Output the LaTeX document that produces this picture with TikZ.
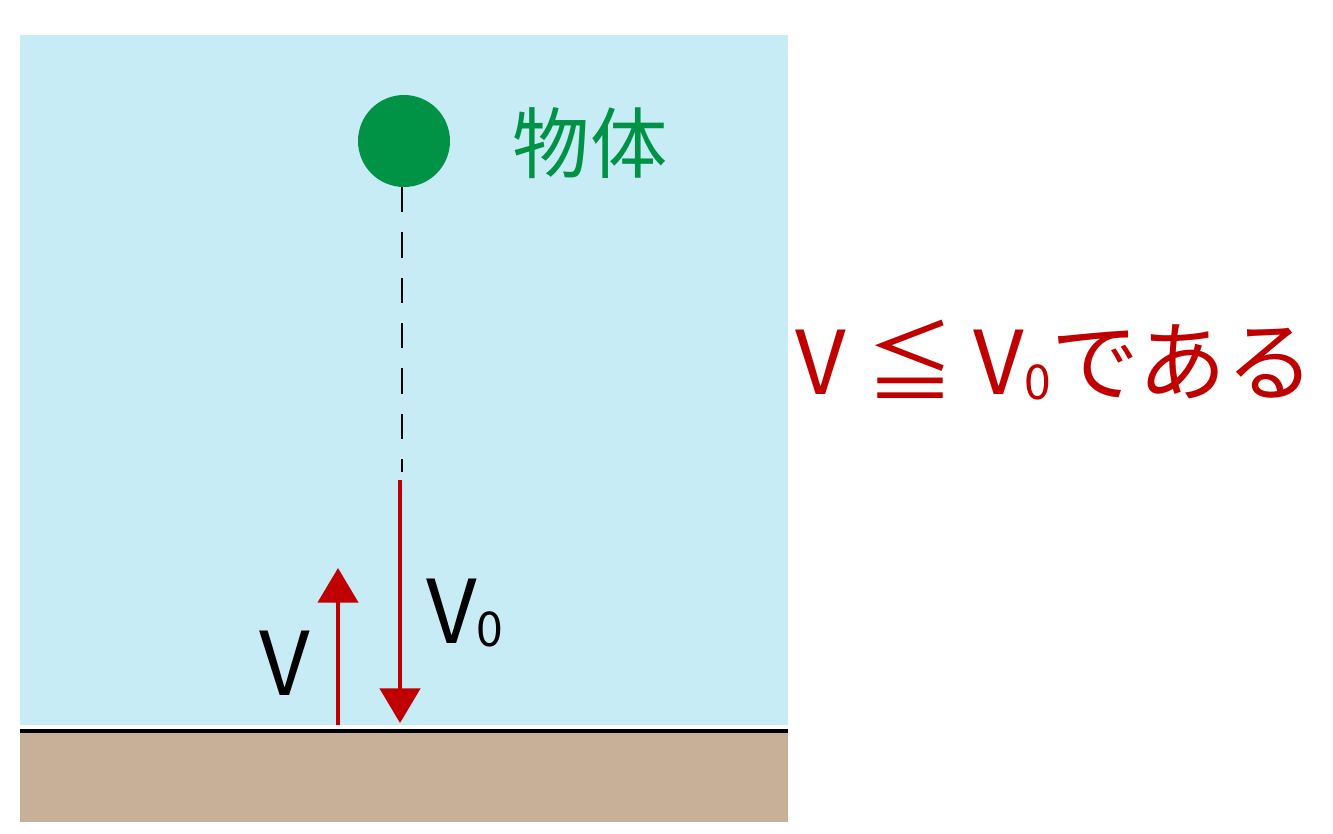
\documentclass[tikz,border=0pt]{standalone}
\usepackage{fontspec}
\setmainfont{Noto Sans CJK JP}
\usetikzlibrary{arrows.meta}
\definecolor{sky}{HTML}{C8ECF5}
\definecolor{soil}{HTML}{C8AF98}
\definecolor{grn}{HTML}{009245}
\definecolor{rd}{HTML}{C00000}
\tikzset{vel/.style={rd,line width=3.5pt,-{Triangle[width=30pt,length=26pt]}}}
\begin{document}
\begin{tikzpicture}[x=0.75pt,y=-0.75pt]
\useasboundingbox (0,0) rectangle (1333,833);
\fill[sky] (20,35) rectangle (788,725);
\fill[soil] (20,733) rectangle (788,822);
\draw[line width=3pt] (20,731) -- (788,731);
\node[circle,fill=grn,minimum size=69pt,inner sep=0] (ball) at (404,141) {};
\node[grn,font=\fontsize{58}{60}\selectfont] (lbl) at (590,143) {物体};
\coordinate (d1) at (402,187);
\coordinate (d2) at (402,472);
\draw[line width=2.2pt,dash pattern=on 19pt off 15pt] (d1) -- (d2);
\coordinate (a1) at (400,480);
\coordinate (a2) at (400,723);
\draw[vel] (a1) -- (a2);
\coordinate (b1) at (338,725);
\coordinate (b2) at (338,568);
\draw[vel] (b1) -- (b2);
\node[font=\fontsize{66}{68}\selectfont] (v) at (285,663) {V};
\node[font=\fontsize{66}{68}\selectfont] (v0) at (465,613) {V\raisebox{-2pt}{\fontsize{36}{38}\selectfont 0}};
\node[rd,font=\fontsize{66}{68}\selectfont] (cond) at (1055,360) {V ≦ V\raisebox{-4pt}{\fontsize{36}{38}\selectfont 0}である};
\end{tikzpicture}
\end{document}
